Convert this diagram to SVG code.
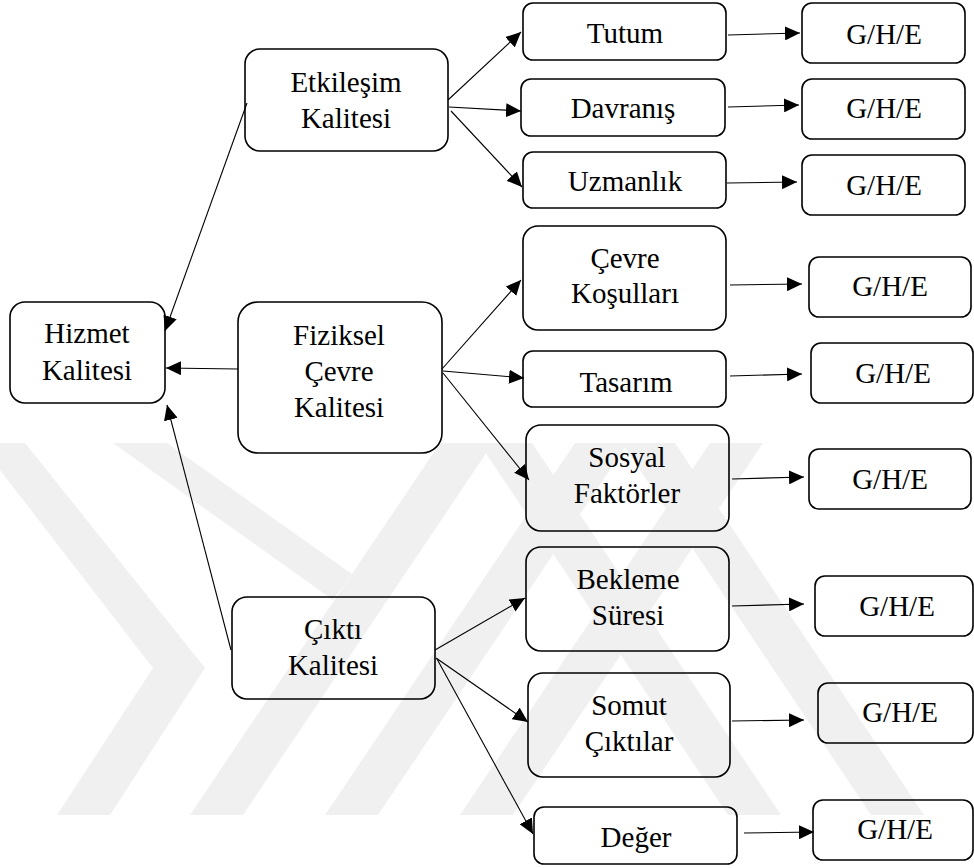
<svg xmlns="http://www.w3.org/2000/svg" width="974" height="868" viewBox="0 0 974 868">
<defs>
<style>
.box{fill:none;stroke:#000;stroke-width:1.6}
text{font-family:'Liberation Serif','Times New Roman',serif;font-size:29px;text-anchor:middle;fill:#000}
.c{stroke:#000;stroke-width:1.1;fill:none;marker-end:url(#ah)}
.wm{fill:#f0f0f0}
</style>
<marker id="ah" markerUnits="userSpaceOnUse" markerWidth="16" markerHeight="14" refX="15" refY="7" orient="auto">
<path d="M0,0 L15,7 L0,14 z" fill="#000"/>
</marker>
<clipPath id="band"><rect x="0" y="443" width="974" height="372"/></clipPath>
</defs>
<rect width="974" height="868" fill="#fff"/>
<g id="watermark" clip-path="url(#band)">
<polygon class="wm" points="0,443 25,443 205,668 110,815 57,815 153,668 0,470"/>
<polygon class="wm" points="113,443 167,443 352,574 333,600"/>
<polygon class="wm" points="190,815 243,815 493,443 440,443"/>
<polygon class="wm" points="325,815 378,815 628,443 575,443"/>
<polygon class="wm" points="460,815 513,815 763,443 710,443"/>
<polygon class="wm" points="728,815 781,815 532,443 479,443"/>
<polygon class="wm" points="871,815 924,815 675,443 622,443"/>
</g>
<g id="connectors">
<line class="c" x1="247" y1="103" x2="165" y2="331"/>
<line class="c" x1="238" y1="369" x2="166" y2="368"/>
<line class="c" x1="231" y1="650" x2="167" y2="405"/>
<line class="c" x1="448" y1="100" x2="521" y2="32"/>
<line class="c" x1="449" y1="107" x2="521" y2="111"/>
<line class="c" x1="451" y1="111" x2="522" y2="187"/>
<line class="c" x1="442" y1="369" x2="521" y2="280"/>
<line class="c" x1="443" y1="371" x2="524" y2="378"/>
<line class="c" x1="443" y1="373" x2="529" y2="480"/>
<line class="c" x1="435" y1="650" x2="525" y2="598"/>
<line class="c" x1="436" y1="658" x2="528" y2="722"/>
<line class="c" x1="437" y1="659" x2="533" y2="834"/>
<line class="c" x1="728" y1="35" x2="800" y2="33"/>
<line class="c" x1="728" y1="107" x2="799" y2="105"/>
<line class="c" x1="727" y1="183" x2="797" y2="182"/>
<line class="c" x1="730" y1="285" x2="802" y2="284"/>
<line class="c" x1="730" y1="376" x2="802" y2="374"/>
<line class="c" x1="732" y1="479" x2="804" y2="477"/>
<line class="c" x1="732" y1="606" x2="804" y2="604"/>
<line class="c" x1="732" y1="721" x2="804" y2="720"/>
<line class="c" x1="744" y1="833" x2="814" y2="832"/>
</g>
<g id="nodes" font-family="Liberation Serif, serif">
<g id="hizmet"><rect class="box" x="10" y="302" width="155" height="101" rx="15"/><text x="87" y="343">Hizmet</text><text x="87" y="380">Kalitesi</text></g>
<g id="etkilesim"><rect class="box" x="245" y="49" width="203" height="102" rx="15"/><text x="346" y="92">Etkileşim</text><text x="346" y="128">Kalitesi</text></g>
<g id="fiziksel"><rect class="box" x="238" y="302" width="204" height="151" rx="20"/><text x="339" y="345">Fiziksel</text><text x="339" y="381">Çevre</text><text x="339" y="417">Kalitesi</text></g>
<g id="cikti"><rect class="box" x="232" y="597" width="203" height="102" rx="15"/><text x="333" y="639">Çıktı</text><text x="333" y="675">Kalitesi</text></g>
<g id="tutum"><rect class="box" x="523" y="3" width="203" height="57" rx="10"/><text x="625" y="43">Tutum</text></g>
<g id="davranis"><rect class="box" x="521" y="79" width="204" height="57" rx="10"/><text x="623" y="118">Davranış</text></g>
<g id="uzmanlik"><rect class="box" x="523" y="152" width="203" height="56" rx="10"/><text x="625" y="191">Uzmanlık</text></g>
<g id="cevre"><rect class="box" x="523" y="226" width="203" height="104" rx="15"/><text x="625" y="268">Çevre</text><text x="625" y="303">Koşulları</text></g>
<g id="tasarim"><rect class="box" x="523" y="351" width="203" height="56" rx="10"/><text x="626" y="392">Tasarım</text></g>
<g id="sosyal"><rect class="box" x="526" y="425" width="203" height="106" rx="15"/><text x="627" y="467">Sosyal</text><text x="627" y="503">Faktörler</text></g>
<g id="bekleme"><rect class="box" x="526" y="547" width="203" height="104" rx="15"/><text x="628" y="589">Bekleme</text><text x="628" y="625">Süresi</text></g>
<g id="somut"><rect class="box" x="528" y="673" width="202" height="104" rx="15"/><text x="629" y="715">Somut</text><text x="629" y="751">Çıktılar</text></g>
<g id="deger"><rect class="box" x="534" y="807" width="203" height="57" rx="10"/><text x="636" y="847">Değer</text></g>
<g id="ghe1"><rect class="box" x="802" y="3" width="163" height="60" rx="10"/><text x="884" y="44">G/H/E</text></g>
<g id="ghe2"><rect class="box" x="802" y="79" width="163" height="60" rx="10"/><text x="884" y="118">G/H/E</text></g>
<g id="ghe3"><rect class="box" x="802" y="155" width="163" height="60" rx="10"/><text x="884" y="195">G/H/E</text></g>
<g id="ghe4"><rect class="box" x="809" y="257" width="162" height="60" rx="10"/><text x="890" y="296">G/H/E</text></g>
<g id="ghe5"><rect class="box" x="811" y="343" width="162" height="60" rx="10"/><text x="893" y="383">G/H/E</text></g>
<g id="ghe6"><rect class="box" x="809" y="449" width="162" height="60" rx="10"/><text x="890" y="489">G/H/E</text></g>
<g id="ghe7"><rect class="box" x="815" y="576" width="158" height="60" rx="10"/><text x="897" y="616">G/H/E</text></g>
<g id="ghe8"><rect class="box" x="818" y="683" width="155" height="60" rx="10"/><text x="900" y="722">G/H/E</text></g>
<g id="ghe9"><rect class="box" x="813" y="800" width="160" height="60" rx="10"/><text x="895" y="839">G/H/E</text></g>
</g>
</svg>
